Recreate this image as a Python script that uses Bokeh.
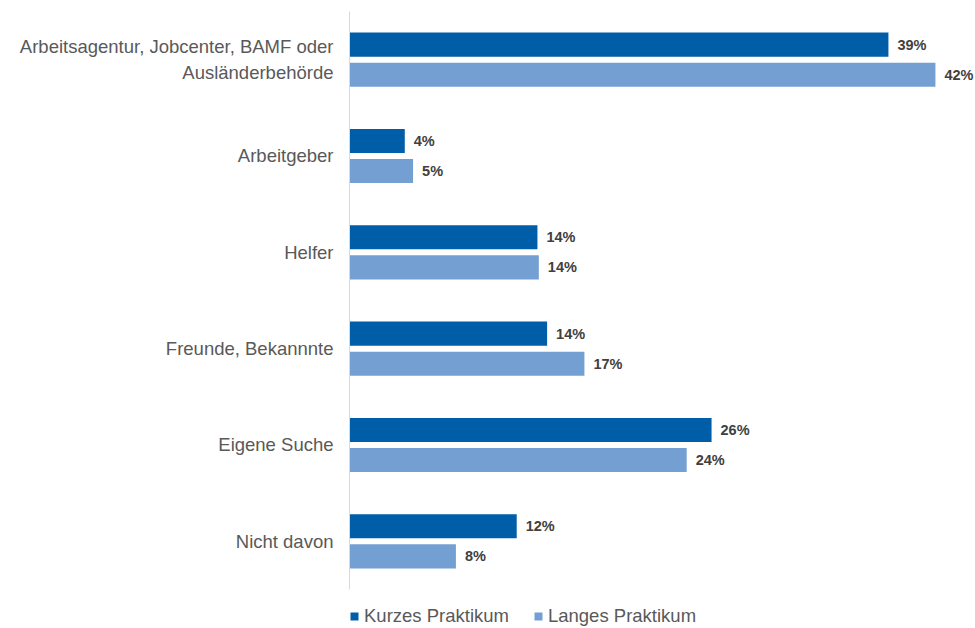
from bokeh.plotting import figure
from bokeh.models import Range1d, ColumnDataSource, Legend, LegendItem, FixedTicker
from bokeh.core.properties import value
from bokeh.embed import file_html
from bokeh.resources import INLINE

categories = [
    "Arbeitsagentur, Jobcenter, BAMF oder\nAusländerbehörde",
    "Arbeitgeber",
    "Helfer",
    "Freunde, Bekannnte",
    "Eigene Suche",
    "Nicht davon",
]
kurzes = [39.0, 4.0, 13.6, 14.3, 26.2, 12.1]
langes = [42.4, 4.6, 13.7, 17.0, 24.4, 7.7]
series_names = ["Kurzes Praktikum", "Langes Praktikum"]

DARK = "#005EA8"
LIGHT = "#749FD3"
FONT = "Liberation Sans"

n = len(categories)
pos = [n - i for i in range(n)]          # top category highest
OFF = 0.156
BAR_H = 0.25

source = ColumnDataSource(dict(
    y_k=[v + OFF for v in pos],
    y_l=[v - OFF for v in pos],
    kurz=kurzes,
    lang=langes,
    kurz_lbl=[f"{round(v)}%" for v in kurzes],
    lang_lbl=[f"{round(v)}%" for v in langes],
))

p = figure(
    frame_width=626, frame_height=617,
    y_range=Range1d(0.095, n + 0.5),
    x_range=Range1d(0, 45.3),
    output_backend="svg", toolbar_location=None,
    min_border_left=349, min_border_right=0, min_border_top=11, min_border_bottom=0,
)

r1 = p.hbar(y="y_k", right="kurz", left=0, height=BAR_H,
            source=source, fill_color=DARK, line_color=None)
r2 = p.hbar(y="y_l", right="lang", left=0, height=BAR_H,
            source=source, fill_color=LIGHT, line_color=None)

p.text(x="kurz", y="y_k", text="kurz_lbl", source=source,
       x_offset=9, text_align="left", text_baseline="middle",
       text_font=value(FONT), text_font_size="14.5px", text_font_style="bold",
       text_color="#404040")
p.text(x="lang", y="y_l", text="lang_lbl", source=source,
       x_offset=9, text_align="left", text_baseline="middle",
       text_font=value(FONT), text_font_size="14.5px", text_font_style="bold",
       text_color="#404040")

p.xaxis.visible = False
p.xgrid.visible = False
p.ygrid.visible = False
p.outline_line_color = None

ya = p.yaxis[0]
ya.ticker = FixedTicker(ticks=pos, minor_ticks=[])
ya.major_label_overrides = {v: c for v, c in zip(pos, categories)}
ya.bounds = (0.5, n + 0.5)
ya.axis_line_color = "#D9D9D9"
ya.axis_line_width = 1
ya.major_tick_line_color = None
ya.minor_tick_line_color = None
ya.major_tick_out = 0
ya.major_tick_in = 0
ya.minor_tick_out = 0
ya.major_label_standoff = 16
ya.major_label_text_font = FONT
ya.major_label_text_font_size = "18.5px"
ya.major_label_text_color = "#595959"
ya.major_label_text_line_height = 1.22

legend = Legend(
    items=[LegendItem(label=series_names[0], renderers=[r1]),
           LegendItem(label=series_names[1], renderers=[r2])],
    orientation="horizontal",
    location=(0, 1),
    glyph_width=10, glyph_height=10,
    label_standoff=5, spacing=24,
    label_text_font=FONT, label_text_font_size="18.5px", label_text_color="#595959",
    border_line_color=None, background_fill_alpha=0,
    padding=0, margin=0,
)
p.add_layout(legend, "center")

open("out.html", "w").write(file_html(p, INLINE))
